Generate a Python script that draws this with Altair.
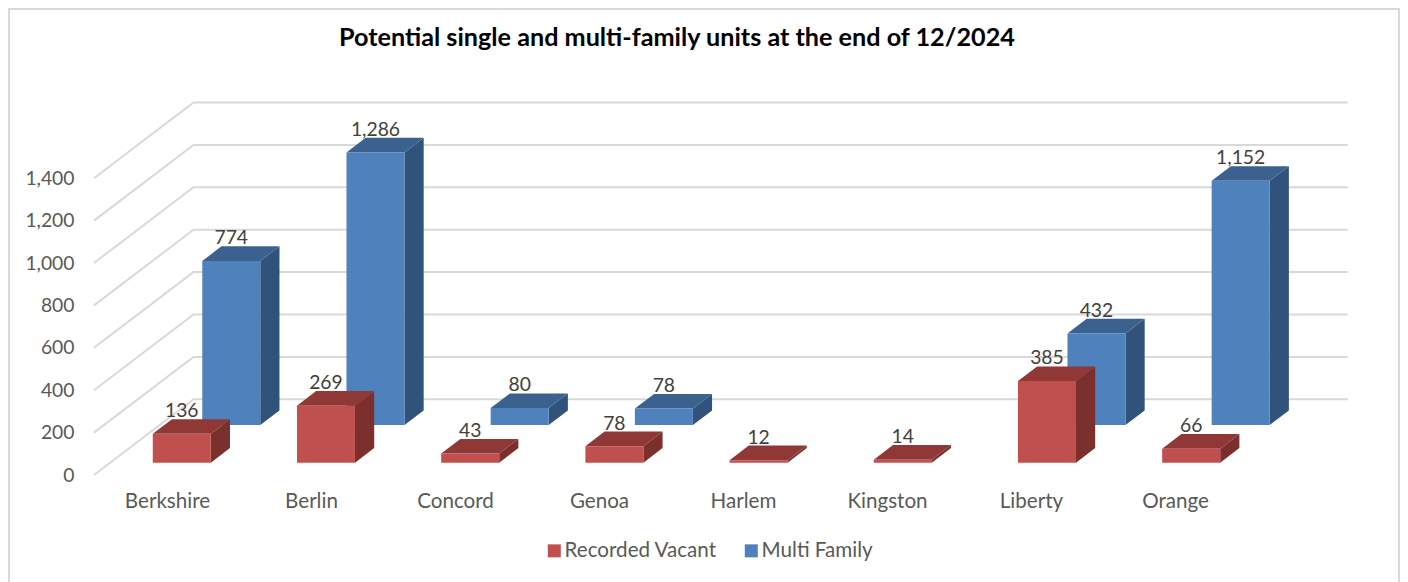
import altair as alt
import pandas as pd

towns = ["Berkshire", "Berlin", "Concord", "Genoa", "Harlem", "Kingston", "Liberty", "Orange"]
vacant = [136, 269, 43, 78, 12, 14, 385, 66]
multi = [774, 1286, 80, 78, None, None, 432, 1152]
ticks = [0, 200, 400, 600, 800, 1000, 1200, 1400]
series_names = ["Recorded Vacant", "Multi Family"]

RED, RED_TOP, RED_SIDE = "#C0504D", "#8F3836", "#7B302E"
BLUE, BLUE_TOP, BLUE_SIDE = "#4F81BD", "#3B618F", "#31527B"
GRID, FRAME = "#D9D9D9", "#D9D9D9"
FONT = "Lato"

W, H = 1392, 574
PX = 0.212                # pixels per unit of value
FRONT_Y = 475             # page y of value 0 on the front edge of the floor
WALL_DX, WALL_DY = 99.5, 75.7
LIFT = WALL_DY / PX       # value-equivalent of full floor depth
SLOT0, SLOT = 136.6, 144.2
BAR_W = 58
D_RED, D_BLUE, D_BAR = 0.1625, 0.66, 0.193
LEFT = 94
RIGHT = 1347.7

xs = alt.Scale(domain=[8, 8 + W], range=[0, W], nice=False, zero=False)
ys = alt.Scale(domain=[(FRONT_Y - 582) / PX, (FRONT_Y - 8) / PX], range=[H, 0], nice=False, zero=False)
y_axis = alt.Axis(
    values=ticks, grid=False, domain=False, ticks=False, title=None, format=",d",
    labelFont=FONT, labelFontSize=19.3, labelColor="#595959", labelPadding=0,
    offset=-66)
X = lambda f: alt.X(f, type="quantitative", scale=xs, axis=None)
X2 = lambda f: alt.X2(f)
Y = lambda f: alt.Y(f, type="quantitative", scale=ys, axis=y_axis)
Y2 = lambda f: alt.Y2(f)
color_scale = alt.Scale(domain=series_names, range=[RED, BLUE])

# ---- wall grid: front of the side wall, back corner, right end of back wall
grid_rows = []
for t in ticks:
    grid_rows += [
        {"t": t, "o": 0, "x": LEFT, "y": t},
        {"t": t, "o": 1, "x": LEFT + WALL_DX, "y": t + LIFT},
        {"t": t, "o": 2, "x": RIGHT, "y": t + LIFT},
    ]
grid = alt.Chart(pd.DataFrame(grid_rows)).mark_line(color=GRID, strokeWidth=2).encode(
    x=X("x"), y=Y("y"), detail="t:N", order="o:Q",
)


def bars(values, name, depth, top_color, side_color):
    rows = [
        {"town": town, "v": v, "i": i}
        for i, (town, v) in enumerate(zip(towns, values)) if v is not None
    ]
    front, sides, tops = [], [], []
    for r in rows:
        x0 = SLOT0 + SLOT * r["i"] + WALL_DX * depth
        x1 = x0 + BAR_W
        base = LIFT * depth
        top = base + r["v"]
        dx, dl = WALL_DX * D_BAR, LIFT * D_BAR
        front.append({"x0": x0, "x1": x1, "y0": base, "y1": top, "series": name, "town": r["town"]})
        sides += [
            {"town": r["town"], "x": x1, "lo": base, "hi": top},
            {"town": r["town"], "x": x1 + dx, "lo": base + dl, "hi": top + dl},
        ]
        tops += [
            {"town": r["town"], "y": top, "a": x0, "b": x1},
            {"town": r["town"], "y": top + dl, "a": x0 + dx, "b": x1 + dx},
        ]
    side_l = alt.Chart(pd.DataFrame(sides)).mark_area(orient="vertical", color=side_color).encode(
        x=X("x"), y=Y("lo"), y2=Y2("hi"), detail="town:N")
    top_l = alt.Chart(pd.DataFrame(tops)).mark_area(orient="horizontal", color=top_color).encode(
        y=Y("y"), x=X("a"), x2=X2("b"), detail="town:N")
    front_l = alt.Chart(pd.DataFrame(front)).mark_rect().encode(
        x=X("x0"), x2=X2("x1"), y=Y("y0"), y2=Y2("y1"),
        color=alt.Color("series:N", scale=color_scale, legend=alt.Legend(
            title=None, orient="none", legendX=536, legendY=532.5, direction="horizontal",
            symbolType="square", symbolSize=169, symbolStrokeWidth=0,
            labelFont=FONT, labelFontSize=20.6, labelColor="#595959",
            columnPadding=24, labelOffset=0)),
    )
    labels = pd.DataFrame([
        {"x": f["x0"] + BAR_W / 2, "y": f["y1"] + LIFT * D_BAR, "v": f["y1"] - f["y0"]}
        for f in front
    ])
    label_l = alt.Chart(labels).mark_text(
        font=FONT, fontSize=19.3, color="#404040", dy=-8, baseline="middle", align="center"
    ).encode(x=X("x"), y=Y("y"), text=alt.Text("v:Q", format=",d"))
    return [side_l, top_l, front_l], label_l


blue_layers, blue_labels = bars(multi, series_names[1], D_BLUE, BLUE_TOP, BLUE_SIDE)
red_layers, red_labels = bars(vacant, series_names[0], D_RED, RED_TOP, RED_SIDE)

cat_df = pd.DataFrame({"town": towns, "x": [167.5 + 144 * i for i in range(len(towns))],
                       "y": [(FRONT_Y - 502) / PX] * len(towns)})
cats = alt.Chart(cat_df).mark_text(font=FONT, fontSize=20.6, color="#595959", baseline="middle").encode(
    x=X("x"), y=Y("y"), text="town:N")

frame_left = alt.Chart(pd.DataFrame({"a": [0]})).mark_rule(color=FRAME, strokeWidth=2).encode(
    x=alt.value(1), y=alt.value(0), y2=alt.value(H))
frame_right = alt.Chart(pd.DataFrame({"a": [0]})).mark_rule(color=FRAME, strokeWidth=2).encode(
    x=alt.value(W - 1), y=alt.value(0), y2=alt.value(H))
frame_top = alt.Chart(pd.DataFrame({"a": [0]})).mark_rule(color=FRAME, strokeWidth=2).encode(
    x=alt.value(0), x2=alt.value(W), y=alt.value(1))

chart = alt.layer(
    frame_left, frame_right, frame_top, grid, *blue_layers, *red_layers,
    blue_labels, red_labels, cats,
).properties(
    width=W, height=H, padding=0,
    autosize=alt.AutoSizeParams(type="none"),
    title=alt.TitleParams(
        "Potential single and multi-family units at the end of 12/2024",
        font=FONT, fontSize=25.2, fontWeight="bold", color="#000000",
        anchor="start", frame="group", dx=331, dy=44, offset=0,
    ),
).configure_view(stroke=None)

chart.save("out.html", embed_options={"renderer": "svg", "actions": False})
